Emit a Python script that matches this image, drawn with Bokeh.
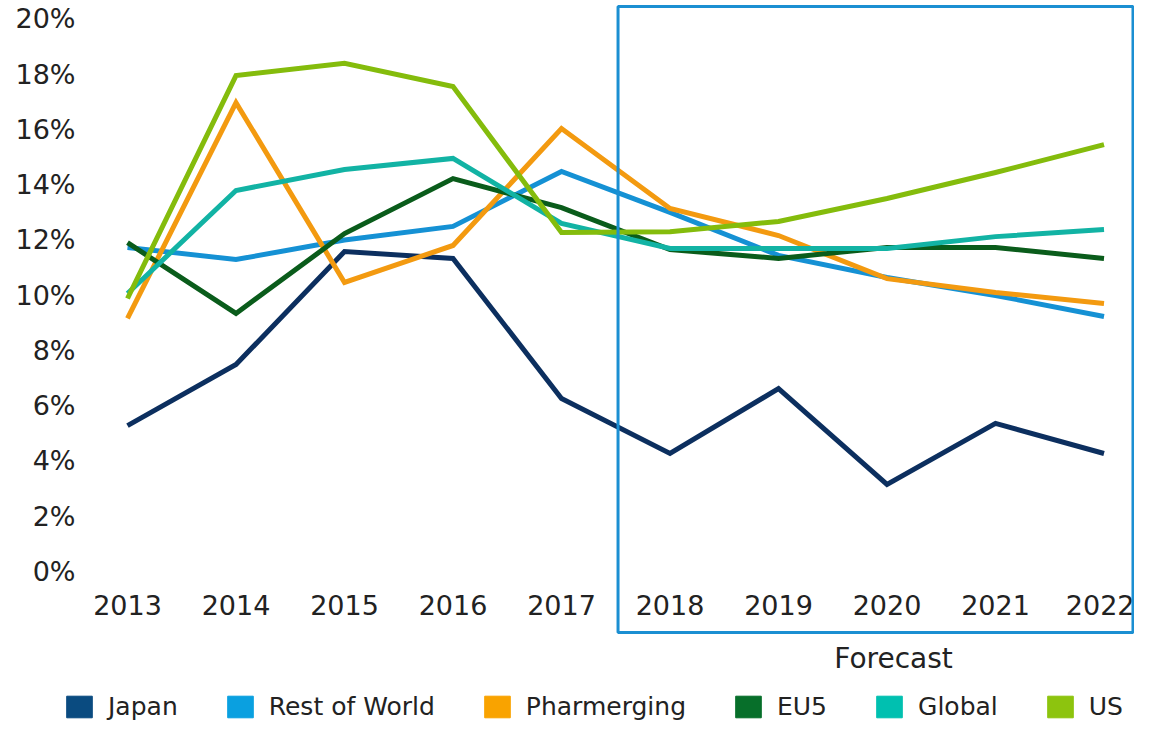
from bokeh.plotting import figure
from bokeh.models import (Range1d, FixedTicker, CustomJSTickFormatter, BoxAnnotation,
                          Legend, LegendItem, ColumnDataSource)
from bokeh.core.properties import value
from bokeh.embed import file_html
from bokeh.resources import INLINE

# ---------------- data ----------------
years = [2013, 2014, 2015, 2016, 2017, 2018, 2019, 2020, 2021, 2022]
japan = [5.28, 7.49, 11.58, 11.33, 6.26, 4.27, 6.62, 3.15, 5.36, 4.27]
rest_of_world = [11.73, 11.29, 12.0, 12.49, 14.48, 13.0, 11.44, 10.64, 9.99, 9.23]
pharmerging = [9.16, 16.97, 10.46, 11.8, 16.03, 13.14, 12.16, 10.6, 10.1, 9.7]
eu5 = [11.9, 9.34, 12.23, 14.22, 13.17, 11.65, 11.33, 11.73, 11.73, 11.33]
global_ = [10.06, 13.79, 14.55, 14.95, 12.6, 11.69, 11.69, 11.69, 12.12, 12.38]
us = [9.88, 17.95, 18.39, 17.55, 12.27, 12.3, 12.67, 13.5, 14.44, 15.45]

series_names = ["Japan", "Rest of World", "Pharmerging", "EU5", "Global", "US"]
series_values = [japan, rest_of_world, pharmerging, eu5, global_, us]
y_ticks = [0, 2, 4, 6, 8, 10, 12, 14, 16, 18, 20]
forecast_label = "Forecast"

# ---------------- styles / layout ----------------
line_colors = ["#0c2f5f", "#1591d4", "#f39a10", "#0a5c1b", "#12b3a4", "#84bc0c"]
legend_colors = ["#0a4b80", "#0aa0e0", "#f9a300", "#076f2a", "#00c0b0", "#8dc40e"]
box_color = "#1b8fd2"
text_color = "#222222"
FONT = "DejaVu Sans"

p = figure(width=1134, height=721, output_backend="svg", toolbar_location=None,
           x_range=Range1d(2011.8295, 2022.281), y_range=Range1d(-5.429, 20.666),
           min_border_left=0, min_border_right=0, min_border_top=0, min_border_bottom=0)
p.outline_line_color = None
p.background_fill_color = "white"
p.border_fill_color = "white"
p.xgrid.visible = False
p.ygrid.visible = False

# y axis (placed inside the frame so the legend can start further left)
p.yaxis.ticker = FixedTicker(ticks=y_ticks)
p.yaxis.formatter = CustomJSTickFormatter(code="return tick.toFixed(0) + '%';")
p.yaxis.fixed_location = 2012.567
p.yaxis.axis_line_color = None
p.yaxis.major_tick_line_color = None
p.yaxis.minor_tick_line_color = None
p.yaxis.major_tick_out = 0
p.yaxis.major_tick_in = 0
p.yaxis.major_label_standoff = 5
p.yaxis.major_label_text_font = FONT
p.yaxis.major_label_text_font_size = "27px"
p.yaxis.major_label_text_color = text_color

# x axis (inside the frame, within the forecast box region)
p.xaxis.ticker = FixedTicker(ticks=years)
p.xaxis.fixed_location = -0.85
p.xaxis.axis_line_color = None
p.xaxis.major_tick_line_color = None
p.xaxis.minor_tick_line_color = None
p.xaxis.major_tick_out = 0
p.xaxis.major_tick_in = 0
p.xaxis.major_label_standoff = 0
p.xaxis.major_label_text_font = FONT
p.xaxis.major_label_text_font_size = "27px"
p.xaxis.major_label_text_color = text_color

# forecast box
p.add_layout(BoxAnnotation(left=2017.521, right=2022.267, top=20.45, bottom=-2.208,
                           fill_alpha=0, line_color=box_color, line_alpha=1.0, line_width=3))

# lines
for name, vals, c in zip(series_names, series_values, line_colors):
    src = ColumnDataSource(dict(x=years, y=vals))
    p.line("x", "y", source=src, line_color=c, line_width=5, line_join="miter")

# forecast label
p.text(x=[2020.06], y=[-3.149], text=[forecast_label],
       text_font=value(FONT), text_font_size="28px", text_color=text_color,
       text_align="center", text_baseline="middle")

# legend with squares
nan = float("nan")
items = []
for name, c in zip(series_names, legend_colors):
    r = p.quad(left=[nan], right=[nan], top=[nan], bottom=[nan],
               fill_color=c, line_color=c)
    items.append(LegendItem(label=name, renderers=[r]))
legend = Legend(items=items, orientation="horizontal", location=(63, 0),
                glyph_width=32, glyph_height=27, label_standoff=13, spacing=46,
                padding=0, margin=0, border_line_color=None, background_fill_alpha=0,
                label_text_font=FONT, label_text_font_size="25px",
                label_text_color=text_color, label_height=27)
p.add_layout(legend, "center")

open("out.html", "w").write(file_html(p, INLINE))
